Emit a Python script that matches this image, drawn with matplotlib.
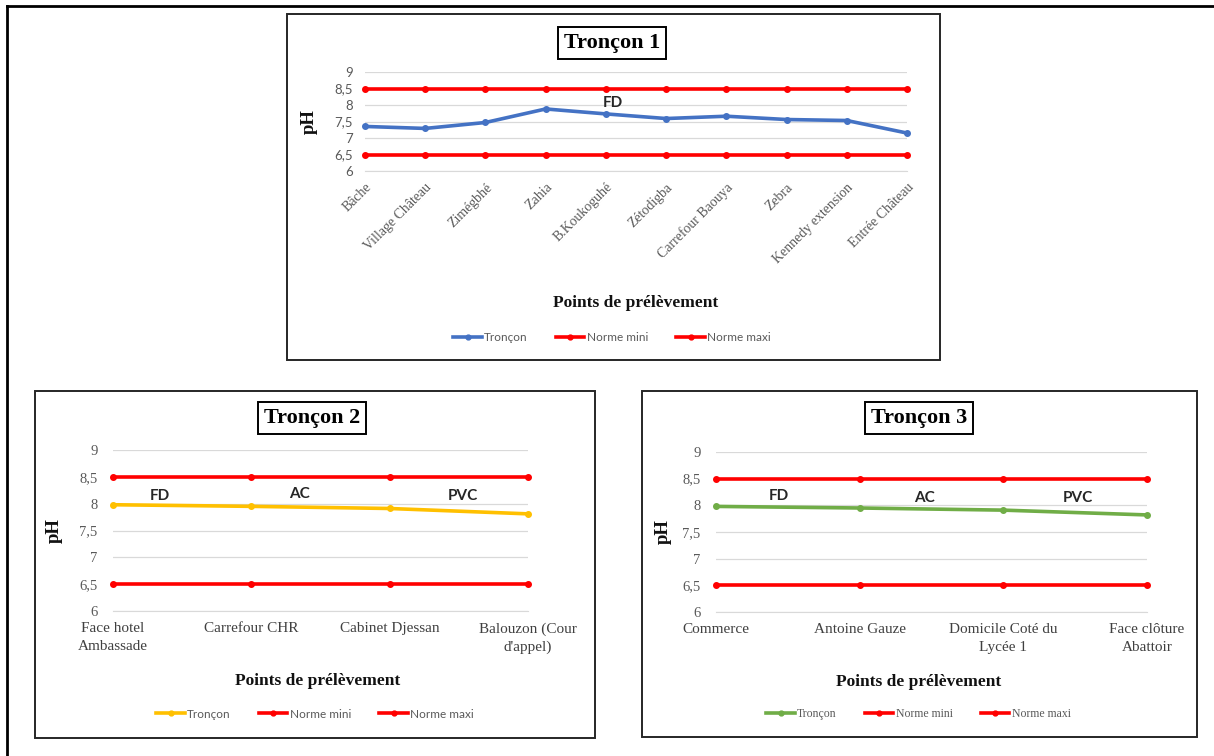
import matplotlib
matplotlib.use("Agg")
import matplotlib.pyplot as plt
from matplotlib.patches import Rectangle
from matplotlib.lines import Line2D

# figure size in pixels
W, H = 1214, 756

# Tronçon 1
points_t1 = ['Bâche', 'Village Château', 'Zimégbhé', 'Zahia', 'B.Koukoguhé',
             'Zétodigba', 'Carrefour Baouya', 'Zebra', 'Kennedy extension',
             'Entrée Château']
ph_t1 = [7.35, 7.29, 7.47, 7.88, 7.73, 7.59, 7.66, 7.56, 7.53, 7.15]

# Tronçon 2
points_t2 = ['Face hotel\nAmbassade', 'Carrefour CHR', 'Cabinet Djessan',
             'Balouzon (Cour\nd\'appel)']
ph_t2 = [7.98, 7.95, 7.91, 7.81]

# Tronçon 3
points_t3 = ['Commerce', 'Antoine Gauze', 'Domicile Coté du\nLycée 1',
             'Face clôture\nAbattoir']
ph_t3 = [7.98, 7.95, 7.91, 7.82]

norme_mini = 6.5
norme_maxi = 8.5
yticks = [6, 6.5, 7, 7.5, 8, 8.5, 9]
ytick_labels = ['6', '6,5', '7', '7,5', '8', '8,5', '9']

# pipe material labels: (text, x in category units, y in pH)
mat_t1 = [('FD', 4.12, 8.07)]
mat_t2 = [('FD', 0.34, 8.14), ('AC', 1.35, 8.18), ('PVC', 2.53, 8.14)]
mat_t3 = [('FD', 0.44, 8.17), ('AC', 1.45, 8.13), ('PVC', 2.52, 8.13)]

SERIF = 'Liberation Serif'
SANS = 'Lato'
RED = '#FF0000'


def px(x0, y0, x1, y1):
    return [x0 / W, 1 - y1 / H, (x1 - x0) / W, (y1 - y0) / H]


def frame(fig, x0, y0, x1, y1):
    fig.patches.append(Rectangle((x0 / W, 1 - y1 / H), (x1 - x0) / W, (y1 - y0) / H,
                                 transform=fig.transFigure, fill=False,
                                 edgecolor='#262626', linewidth=1.4))


def draw_panel(ax, names, values, color, mats, rotate, tick_font, leg_font,
               xlab_y, ylab_x, leg_xy, ypad):
    n = len(names)
    xs = list(range(n))
    ax.plot(xs, values, color=color, lw=2.6, marker='o', ms=4, zorder=3,
            label='Tronçon', clip_on=False)
    ax.plot(xs, [norme_mini] * n, color=RED, lw=2.6, marker='o', ms=4,
            zorder=2, label='Norme mini', clip_on=False)
    ax.plot(xs, [norme_maxi] * n, color=RED, lw=2.6, marker='o', ms=4,
            zorder=2, label='Norme maxi', clip_on=False)
    ax.set_xlim(0, n - 1)
    ax.set_ylim(6, 9)
    ax.set_yticks(yticks)
    ax.set_yticklabels(ytick_labels)
    ax.grid(axis='y', color='#D9D9D9', lw=0.9)
    ax.set_axisbelow(True)
    for s in ['top', 'right', 'left']:
        ax.spines[s].set_visible(False)
    ax.spines['bottom'].set_color('#D9D9D9')
    ax.tick_params(axis='both', length=0, colors='#595959')
    ax.tick_params(axis='y', pad=ypad)
    ax.set_xticks(xs)
    if rotate:
        ax.set_xticklabels(names, rotation=45, ha='right', rotation_mode='anchor',
                           fontfamily=SERIF, fontsize=10, color='#595959')
        ax.tick_params(axis='x', pad=7)
    else:
        ax.set_xticklabels(names, fontfamily=SERIF, fontsize=11,
                           color='#404040', linespacing=1.45)
        ax.tick_params(axis='x', pad=8)
    for lab in ax.get_yticklabels():
        lab.set_fontfamily(tick_font)
        lab.set_fontsize(10.5 if tick_font == SERIF else 9.5)
    for txt, x, y in mats:
        ax.text(x, y, txt, ha='center', va='center', fontfamily=SANS,
                fontweight='bold', fontsize=11, color='#262626')
    ax.set_xlabel('Points de prélèvement', fontfamily=SERIF, fontweight='bold',
                  fontsize=12.5, color='#111111')
    ax.xaxis.set_label_coords(xlab_y[0], xlab_y[1])
    ax.set_ylabel('pH', fontfamily=SERIF, fontweight='bold', fontsize=13.5,
                  color='#111111')
    ax.yaxis.set_label_coords(ylab_x, 0.5)
    handles = [Line2D([], [], color=c, lw=2.6, marker='o', ms=3.5)
               for c in [color, RED, RED]]
    ax.legend(handles, ['Tronçon', 'Norme mini', 'Norme maxi'], loc='center',
              bbox_to_anchor=leg_xy, ncol=3, frameon=False,
              prop={'family': leg_font, 'size': 8.5}, labelcolor='#595959',
              handlelength=2.4, handletextpad=0.2, columnspacing=2.4)


fig = plt.figure(figsize=(W / 100, H / 100), dpi=100)
fig.patch.set_facecolor('white')

# outer frame (left and top edges)
fig.add_artist(Line2D([7 / W, 7 / W], [0, 1 - 6 / H], transform=fig.transFigure,
                      color='black', lw=2))
fig.add_artist(Line2D([7 / W, 1], [1 - 6 / H, 1 - 6 / H], transform=fig.transFigure,
                      color='black', lw=2))

frame(fig, 287, 14, 940, 360)
frame(fig, 35, 391, 595, 738)
frame(fig, 642, 391, 1197, 737)

ax1 = fig.add_axes(px(365, 72, 907, 171))
draw_panel(ax1, points_t1, ph_t1, '#4472C4', mat_t1, True, SANS, SANS,
           (0.5, -1.25), -0.087, (0.456, -1.68), 9)

ax2 = fig.add_axes(px(113, 450, 528, 611))
draw_panel(ax2, points_t2, ph_t2, '#FFC000', mat_t2, False, SERIF, SANS,
           (0.494, -0.385), -0.12, (0.487, -0.64), 11)

ax3 = fig.add_axes(px(716, 452, 1147, 612))
draw_panel(ax3, points_t3, ph_t3, '#70AD47', mat_t3, False, SERIF, SERIF,
           (0.47, -0.39), -0.102, (0.47, -0.64), 11)

for label, cx, cy in [('Tronçon 1', 612, 43), ('Tronçon 2', 312, 418),
                      ('Tronçon 3', 919, 418)]:
    fig.text(cx / W, 1 - cy / H, label, ha='center', va='center',
             fontfamily=SERIF, fontweight='bold', fontsize=16, color='black',
             bbox=dict(boxstyle='square,pad=0.25', facecolor='white',
                       edgecolor='black', linewidth=1.4))

fig.savefig('out.png', dpi=100)
